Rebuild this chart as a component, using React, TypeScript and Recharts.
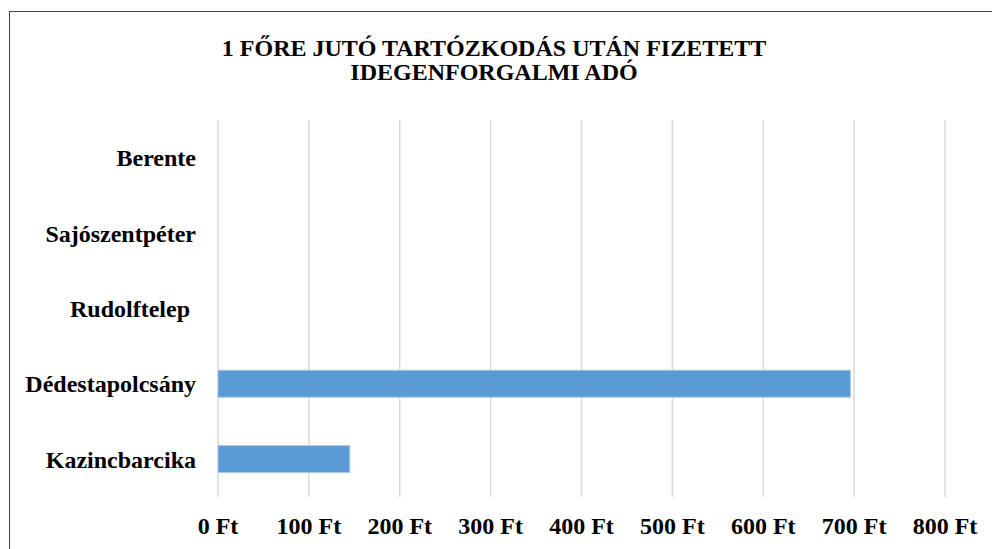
import { BarChart, Bar, XAxis, YAxis, CartesianGrid } from 'recharts';

// Települések (felülről lefelé) és az 1 főre jutó idegenforgalmi adó
const towns = ['Berente', 'Sajószentpéter', 'Rudolftelep\u00a0', 'Dédestapolcsány', 'Kazincbarcika'];
const taxPerHead = [0, 0, 0, 696, 145];
const xTicks = [0, 100, 200, 300, 400, 500, 600, 700, 800];
const titleLines = ['1 FŐRE JUTÓ TARTÓZKODÁS UTÁN FIZETETT', 'IDEGENFORGALMI ADÓ'];

const data = towns.map((town, i) => ({ town, tax: taxPerHead[i] }));

const font = '"Liberation Serif", "Times New Roman", serif';
const tickStyle = { fontFamily: font, fontWeight: 700, fontSize: 24, fill: '#000' };

const App = () => {
  return (
    <div style={{ position: 'fixed', left: 0, top: 0, width: 992, height: 549, overflow: 'hidden', background: '#fff' }}>
      {/* chart area frame, cut off at right and bottom like the screenshot */}
      <div
        style={{
          position: 'absolute',
          left: 9,
          top: 11,
          width: 1100,
          height: 700,
          border: '1.5px solid #444',
          boxSizing: 'border-box',
        }}
      />
      <div
        style={{
          position: 'absolute',
          left: 0,
          top: 36,
          width: 988,
          textAlign: 'center',
          fontFamily: font,
          fontWeight: 700,
          fontSize: 24,
          lineHeight: '24px',
          color: '#000',
        }}
      >
        {titleLines.map((line) => (
          <div key={line}>{line}</div>
        ))}
      </div>
      <div style={{ position: 'absolute', left: 0, top: 0 }}>
        <BarChart
          width={992}
          height={549}
          data={data}
          layout="vertical"
          margin={{ top: 120, right: 47, left: 0, bottom: 22 }}
        >
          <CartesianGrid horizontal={false} stroke="#d9d9d9" strokeWidth={1.5} />
          <XAxis
            type="number"
            domain={[0, 800]}
            ticks={xTicks}
            tickFormatter={(v) => `${v} Ft`}
            axisLine={false}
            tickLine={false}
            tickSize={0}
            tickMargin={20}
            tick={tickStyle}
            interval={0}
          />
          <YAxis
            type="category"
            dataKey="town"
            width={218}
            axisLine={false}
            tickLine={false}
            tickSize={0}
            tickMargin={22}
            tick={tickStyle}
            interval={0}
          />
          <Bar dataKey="tax" fill="#5b9bd5" stroke="#a9c8ea" strokeWidth={1} barSize={27} isAnimationActive={false} />
        </BarChart>
      </div>
    </div>
  );
};

export default App;
